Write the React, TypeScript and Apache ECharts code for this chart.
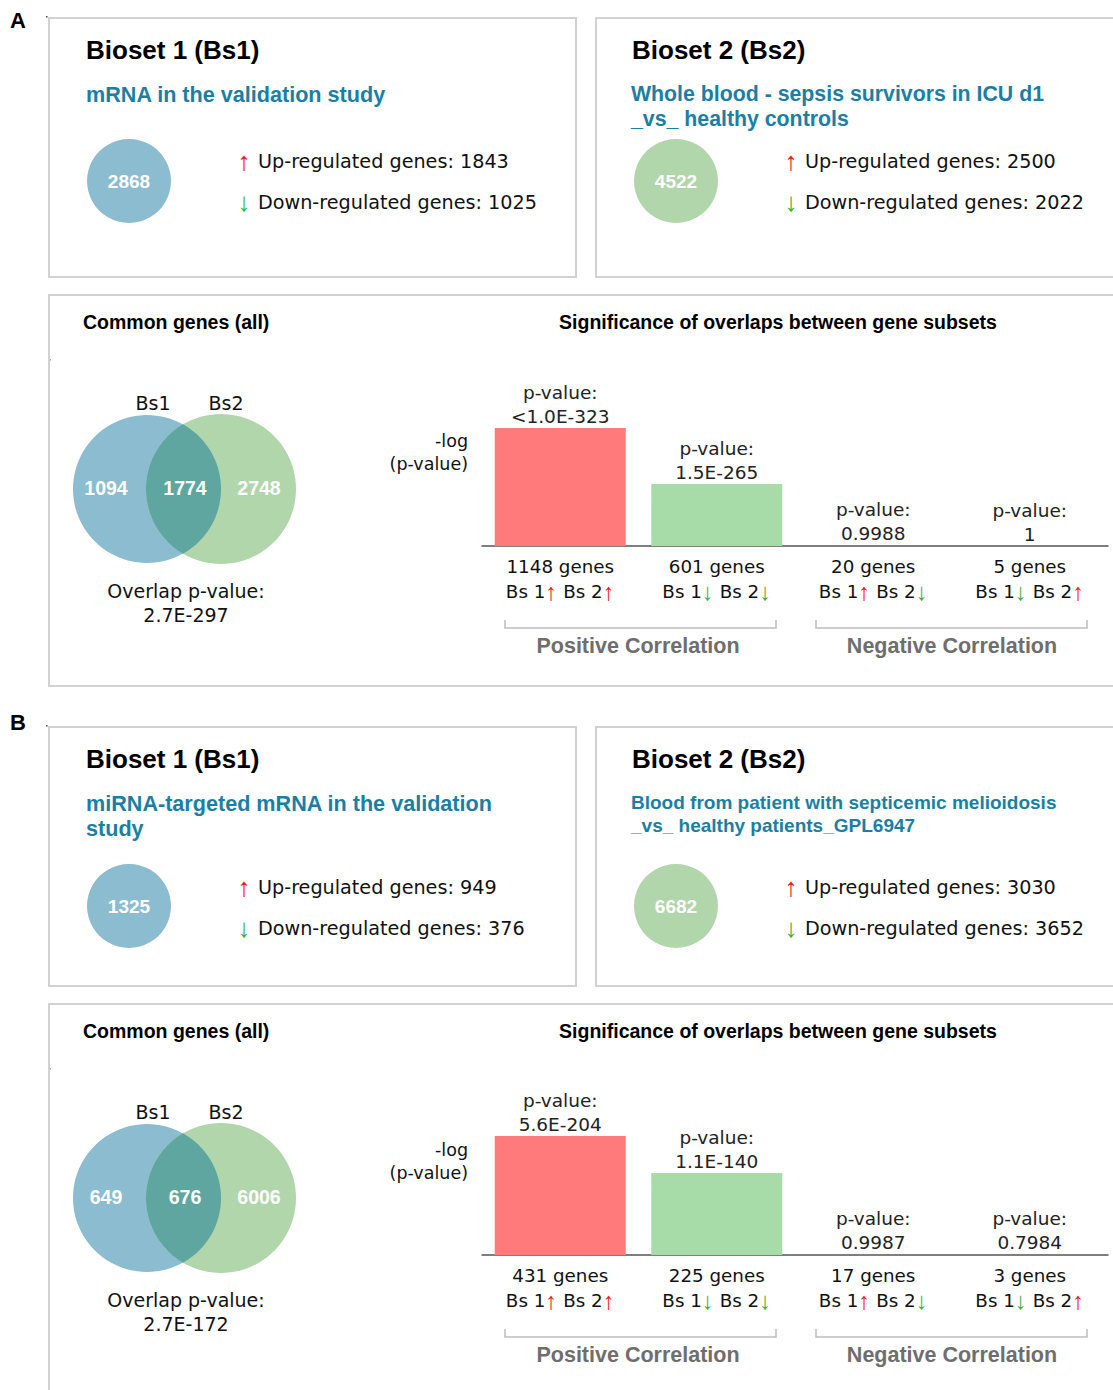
import React, { useEffect, useRef } from "react";
import * as echarts from "echarts";

// ---------- DATA ----------
const panelLetters = ["A", "B"];
const bs1Titles = ["Bioset 1 (Bs1)", "Bioset 1 (Bs1)"];
const bs2Titles = ["Bioset 2 (Bs2)", "Bioset 2 (Bs2)"];
const bs1Subtitles = [["mRNA in the validation study"], ["miRNA-targeted mRNA in the validation", "study"]];
const bs2Subtitles = [
  ["Whole blood - sepsis survivors in ICU d1", "_vs_ healthy controls"],
  ["Blood from patient with septicemic melioidosis", "_vs_ healthy patients_GPL6947"],
];
const bs1Totals = [2868, 1325];
const bs1Up = [1843, 949];
const bs1Down = [1025, 376];
const bs2Totals = [4522, 6682];
const bs2Up = [2500, 3030];
const bs2Down = [2022, 3652];
const vennOnly1 = [1094, 649];
const vennCommon = [1774, 676];
const vennOnly2 = [2748, 6006];
const overlapPValues = ["2.7E-297", "2.7E-172"];

const subsetDirections = [["up", "up"], ["down", "down"], ["up", "down"], ["down", "up"]];
const subsetGenesA = [1148, 601, 20, 5];
const subsetGenesB = [431, 225, 17, 3];
const pValueLabelsA = ["<1.0E-323", "1.5E-265", "0.9988", "1"];
const pValueLabelsB = ["5.6E-204", "1.1E-140", "0.9987", "0.7984"];
const negLogPA = [504, 264.8, 0.0005, 0];
const negLogPB = [203.3, 140.0, 0.0006, 0.098];
const correlationGroups = ["Positive Correlation", "Negative Correlation"];

// ---------- STYLE / LAYOUT ----------
const W = 1113;
const H = 1390;
const SANS = "'Liberation Sans', Arial, sans-serif";
const BODY = "'DejaVu Sans', Verdana, sans-serif";
const TEAL = "#1b7ea5";
const BLUE = "#8bbccf";
const GREEN = "#b2d6ab";
const LENS = "#5fa6a1";
const BAR_RED = "#ff7b7b";
const BAR_GREEN = "#a7dba7";
const UP_RED = "#ff1010";
const DOWN_GREEN = "#3caf3c";
const BORDER = "#d2d2d2";

const layouts = [
  { letterY: 20, boxTop: 18, titleY: 50, sub1Y: [94, 119], sub2Y: [94, 119], sub2Size: 21.3, circY: 181, upY: 161, downY: 202, low: 0 },
  { letterY: 722, boxTop: 727, titleY: 759, sub1Y: [803, 828], sub2Y: [802, 825], sub2Size: 19, circY: 906, upY: 887, downY: 928, low: 709 },
];

function lensPoints(cx1: number, cx2: number, cy: number, r1: number, r2: number) {
  const d = cx2 - cx1;
  const a = (d * d + r1 * r1 - r2 * r2) / (2 * d);
  const h = Math.sqrt(r1 * r1 - a * a);
  const t1 = Math.atan2(h, a);
  const t2 = Math.atan2(h, a - d);
  const pts: number[][] = [];
  const N = 48;
  for (let k = 0; k <= N; k++) {
    const t = -t1 + (2 * t1 * k) / N;
    pts.push([cx1 + r1 * Math.cos(t), cy + r1 * Math.sin(t)]);
  }
  for (let k = 0; k <= N; k++) {
    const t = t2 + ((2 * Math.PI - 2 * t2) * k) / N;
    pts.push([cx2 + r2 * Math.cos(t), cy + r2 * Math.sin(t)]);
  }
  return pts;
}

function txt(x: number, y: number, text: string, o: any = {}) {
  return {
    type: "text",
    x,
    y,
    silent: true,
    style: {
      text,
      fill: o.fill || "#111",
      fontSize: o.size || 18,
      fontFamily: o.family || BODY,
      fontWeight: o.weight || "normal",
      align: o.align || "left",
      verticalAlign: "middle",
    },
  };
}

function buildGraphics(): any[] {
  const g: any[] = [];
  for (let i = 0; i < 2; i++) {
    const L = layouts[i];
    const dy = L.low;
    g.push(txt(18, L.letterY, panelLetters[i], { family: SANS, weight: "bold", size: 22, align: "center", fill: "#000" }));
    g.push({ type: "rect", shape: { x: 46, y: L.boxTop - 2, width: 1.5, height: 1.5 }, style: { fill: "#444" } });
    g.push({ type: "rect", shape: { x: 49, y: 359 + dy, width: 1.5, height: 1.5 }, style: { fill: "#444" } });
    g.push({ type: "rect", shape: { x: 49, y: L.boxTop, width: 527, height: 259 }, style: { fill: "none", stroke: BORDER, lineWidth: 2 } });
    g.push({ type: "rect", shape: { x: 596, y: L.boxTop, width: 560, height: 259 }, style: { fill: "none", stroke: BORDER, lineWidth: 2 } });
    g.push({ type: "rect", shape: { x: 49, y: 295 + dy, width: 1100, height: 391 }, style: { fill: "none", stroke: BORDER, lineWidth: 2 } });

    // Bioset 1 box
    g.push(txt(86, L.titleY, bs1Titles[i], { family: SANS, weight: "bold", size: 26, fill: "#000" }));
    bs1Subtitles[i].forEach((s, k) => g.push(txt(86, L.sub1Y[k], s, { family: SANS, weight: "bold", size: 21.6, fill: TEAL })));
    g.push({ type: "circle", shape: { cx: 129, cy: L.circY, r: 42 }, style: { fill: BLUE } });
    g.push(txt(129, L.circY, String(bs1Totals[i]), { family: SANS, weight: "bold", size: 19, fill: "#fff", align: "center" }));
    g.push(txt(244, L.upY, "↑", { family: SANS, size: 26, fill: UP_RED, align: "center" }));
    g.push(txt(258, L.upY, "Up-regulated genes: " + bs1Up[i], { size: 19.2, fill: "#111" }));
    g.push(txt(244, L.downY, "↓", { family: SANS, size: 26, fill: DOWN_GREEN, align: "center" }));
    g.push(txt(258, L.downY, "Down-regulated genes: " + bs1Down[i], { size: 19.2, fill: "#111" }));

    // Bioset 2 box
    g.push(txt(632, L.titleY, bs2Titles[i], { family: SANS, weight: "bold", size: 26, fill: "#000" }));
    bs2Subtitles[i].forEach((s, k) => g.push(txt(631, L.sub2Y[k], s, { family: SANS, weight: "bold", size: L.sub2Size, fill: TEAL })));
    g.push({ type: "circle", shape: { cx: 676, cy: L.circY, r: 42 }, style: { fill: GREEN } });
    g.push(txt(676, L.circY, String(bs2Totals[i]), { family: SANS, weight: "bold", size: 19, fill: "#fff", align: "center" }));
    g.push(txt(791, L.upY, "↑", { family: SANS, size: 26, fill: UP_RED, align: "center" }));
    g.push(txt(805, L.upY, "Up-regulated genes: " + bs2Up[i], { size: 19.2, fill: "#111" }));
    g.push(txt(791, L.downY, "↓", { family: SANS, size: 26, fill: DOWN_GREEN, align: "center" }));
    g.push(txt(805, L.downY, "Down-regulated genes: " + bs2Down[i], { size: 19.2, fill: "#111" }));

    // Common genes panel
    g.push(txt(83, 322 + dy, "Common genes (all)", { family: SANS, weight: "bold", size: 19.5, fill: "#000" }));
    g.push(txt(778, 322 + dy, "Significance of overlaps between gene subsets", { family: SANS, weight: "bold", size: 19.5, fill: "#000", align: "center" }));

    // Venn
    const cy = 489 + dy;
    g.push(txt(153, 403 + dy, "Bs1", { size: 19, align: "center" }));
    g.push(txt(226, 403 + dy, "Bs2", { size: 19, align: "center" }));
    g.push({ type: "circle", shape: { cx: 147, cy, r: 74 }, style: { fill: BLUE } });
    g.push({ type: "circle", shape: { cx: 221, cy, r: 75 }, style: { fill: GREEN } });
    g.push({ type: "polygon", shape: { points: lensPoints(147, 221, cy, 74, 75) }, style: { fill: LENS } });
    g.push(txt(106, cy - 1, String(vennOnly1[i]), { family: SANS, weight: "bold", size: 19.5, fill: "#fff", align: "center" }));
    g.push(txt(185, cy - 1, String(vennCommon[i]), { family: SANS, weight: "bold", size: 19.5, fill: "#fff", align: "center" }));
    g.push(txt(259, cy - 1, String(vennOnly2[i]), { family: SANS, weight: "bold", size: 19.5, fill: "#fff", align: "center" }));
    g.push(txt(186, 591 + dy, "Overlap p-value:", { size: 19, align: "center" }));
    g.push(txt(186, 615 + dy, overlapPValues[i], { size: 19, align: "center" }));

    // y-axis caption
    g.push(txt(468, 441 + dy, "-log", { size: 17.5, align: "right" }));
    g.push(txt(468, 464 + dy, "(p-value)", { size: 17.5, align: "right" }));

    // brackets
    const by = 628 + dy;
    g.push({ type: "polyline", shape: { points: [[505, by - 8], [505, by], [776, by], [776, by - 8]] }, style: { stroke: "#bdbdbd", lineWidth: 1.5, fill: "none" } });
    g.push({ type: "polyline", shape: { points: [[816, by - 8], [816, by], [1087, by], [1087, by - 8]] }, style: { stroke: "#bdbdbd", lineWidth: 1.5, fill: "none" } });
    g.push(txt(638, 646 + dy, correlationGroups[0], { family: SANS, weight: "bold", size: 21.5, fill: "#6e6e6e", align: "center" }));
    g.push(txt(952, 646 + dy, correlationGroups[1], { family: SANS, weight: "bold", size: 21.5, fill: "#6e6e6e", align: "center" }));
  }
  return g;
}

const barColors = [BAR_RED, BAR_GREEN, BAR_RED, BAR_GREEN];

function catLabel(genes: number, dirs: string[]) {
  const a = (d: string) => (d === "up" ? "{u|↑}" : "{d|↓}");
  return `{n|${genes} genes}\n{t|Bs 1}${a(dirs[0])}{t| Bs 2}${a(dirs[1])}`;
}

const richStyles = {
  n: { fontSize: 18.3, fontFamily: BODY, color: "#111", lineHeight: 25 },
  t: { fontSize: 18.3, fontFamily: BODY, color: "#111", lineHeight: 25 },
  u: { fontSize: 24, fontFamily: SANS, color: UP_RED, lineHeight: 25 },
  d: { fontSize: 24, fontFamily: SANS, color: DOWN_GREEN, lineHeight: 25 },
};

export default function App() {
  const ref = useRef<HTMLDivElement>(null);
  useEffect(() => {
    if (!ref.current) return;
    const chart = echarts.init(ref.current, null, { renderer: "svg" });
    const genesSets = [subsetGenesA, subsetGenesB];
    const pLabelSets = [pValueLabelsA, pValueLabelsB];
    const valueSets = [negLogPA, negLogPB];
    const grids = [
      { left: 482, right: 5, top: 428, height: 118 },
      { left: 482, right: 5, top: 1136, height: 119 },
    ];
    const option: any = {
      animation: false,
      backgroundColor: "#ffffff",
      grid: grids,
      xAxis: [0, 1].map((i) => ({
        type: "category",
        gridIndex: i,
        data: genesSets[i].map((gn, k) => catLabel(gn, subsetDirections[k])),
        axisLine: { show: true, lineStyle: { color: "#555", width: 1.5 } },
        axisTick: { show: false },
        axisLabel: { margin: 8, formatter: (v: string) => v, rich: richStyles, interval: 0 },
      })),
      yAxis: [0, 1].map((i) => ({
        type: "value",
        gridIndex: i,
        min: 0,
        max: "dataMax",
        show: false,
        splitLine: { show: false },
      })),
      series: [0, 1].map((i) => ({
        type: "bar",
        xAxisIndex: i,
        yAxisIndex: i,
        barWidth: 131,
        data: valueSets[i].map((v, k) => ({ value: v, itemStyle: { color: barColors[k] } })),
        label: {
          show: true,
          position: "top",
          distance: 0,
          fontSize: 18.5,
          lineHeight: 24,
          fontFamily: BODY,
          color: "#222",
          formatter: (p: any) => `p-value:\n${pLabelSets[i][p.dataIndex]}`,
        },
      })),
      graphic: { elements: buildGraphics() },
    };
    chart.setOption(option);
    return () => chart.dispose();
  }, []);
  return <div ref={ref} style={{ position: "absolute", left: 0, top: 0, width: W, height: H }} />;
}
